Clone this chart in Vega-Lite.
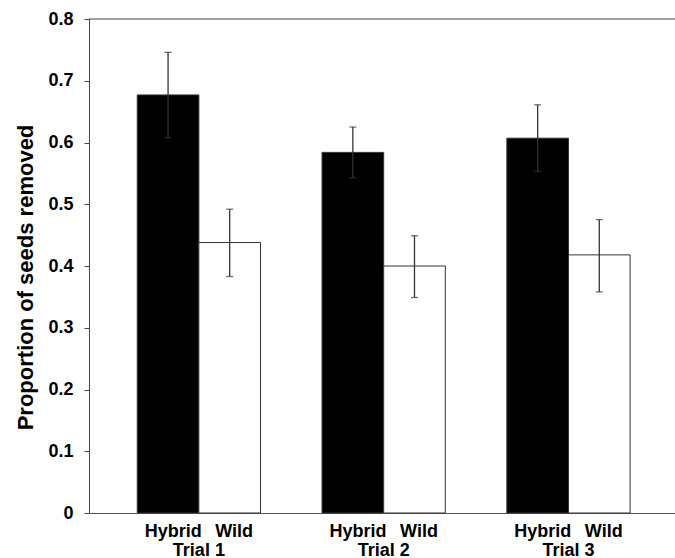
{
  "$schema": "https://vega.github.io/schema/vega-lite/v6.json",
  "width": 586,
  "height": 494,
  "autosize": {"type": "none"},
  "padding": {"left": 89, "top": 19, "right": 0, "bottom": 45},
  "background": "white",
  "config": {"view": {"stroke": null}, "font": "Liberation Sans"},
  "datasets": {
    "bars": [
      {"trial": "Trial 1", "type": "Hybrid", "mean": 0.677, "lo": 0.608, "hi": 0.746},
      {"trial": "Trial 1", "type": "Wild", "mean": 0.438, "lo": 0.383, "hi": 0.492},
      {"trial": "Trial 2", "type": "Hybrid", "mean": 0.584, "lo": 0.543, "hi": 0.625},
      {"trial": "Trial 2", "type": "Wild", "mean": 0.4, "lo": 0.349, "hi": 0.449},
      {"trial": "Trial 3", "type": "Hybrid", "mean": 0.607, "lo": 0.553, "hi": 0.661},
      {"trial": "Trial 3", "type": "Wild", "mean": 0.418, "lo": 0.358, "hi": 0.475}
    ],
    "frame": [{"v": 0.8}]
  },
  "layer": [
    {
      "data": {"name": "bars"},
      "mark": {"type": "bar", "stroke": "#333", "strokeWidth": 1},
      "encoding": {
        "x": {
          "field": "trial", "type": "nominal",
          "scale": {"paddingInner": 0.333, "paddingOuter": 0.252, "align": 0.518},
          "axis": {
            "title": null, "domain": true, "domainColor": "#555", "ticks": false,
            "labelExpr": "['Hybrid\u00a0\u00a0\u2009Wild', datum.value]",
            "labelFontSize": 18, "labelFontWeight": "bold", "labelColor": "#000",
            "labelPadding": 9, "labelLineHeight": 19, "labelAngle": 0, "labelBaseline": "top"
          }
        },
        "xOffset": {"field": "type", "type": "nominal", "sort": ["Hybrid", "Wild"], "scale": {"paddingInner": 0, "paddingOuter": 0}},
        "y": {
          "field": "mean", "type": "quantitative",
          "scale": {"domain": [0, 0.8], "nice": false},
          "axis": {
            "title": "Proportion of seeds removed",
            "values": [0, 0.1, 0.2, 0.3, 0.4, 0.5, 0.6, 0.7, 0.8],
            "labelExpr": "datum.value == 0 ? '0' : format(datum.value, '.1f')",
            "grid": false, "domainColor": "#444", "tickColor": "#444", "tickSize": 5,
            "labelFontSize": 18, "labelFontWeight": "bold", "labelColor": "#000", "labelPadding": 11,
            "titleFontSize": 22, "titleFontWeight": "bold", "titleColor": "#000",
            "titleX": -57, "titleY": 258, "titleAngle": 270, "titleAlign": "center", "titleBaseline": "alphabetic"
          }
        },
        "fill": {"field": "type", "type": "nominal", "scale": {"domain": ["Hybrid", "Wild"], "range": ["#000000", "#ffffff"]}, "legend": null}
      }
    },
    {
      "data": {"name": "bars"},
      "mark": {"type": "rule", "color": "#333", "strokeWidth": 1.3},
      "encoding": {
        "x": {"field": "trial", "type": "nominal"},
        "xOffset": {"field": "type", "type": "nominal", "sort": ["Hybrid", "Wild"]},
        "y": {"field": "lo", "type": "quantitative"},
        "y2": {"field": "hi"}
      }
    },
    {
      "data": {"name": "bars"},
      "mark": {"type": "tick", "color": "#333", "size": 7, "thickness": 1.3},
      "encoding": {
        "x": {"field": "trial", "type": "nominal"},
        "xOffset": {"field": "type", "type": "nominal", "sort": ["Hybrid", "Wild"]},
        "y": {"field": "hi", "type": "quantitative"}
      }
    },
    {
      "data": {"name": "bars"},
      "mark": {"type": "tick", "color": "#333", "size": 7, "thickness": 1.3},
      "encoding": {
        "x": {"field": "trial", "type": "nominal"},
        "xOffset": {"field": "type", "type": "nominal", "sort": ["Hybrid", "Wild"]},
        "y": {"field": "lo", "type": "quantitative"}
      }
    },
    {
      "data": {"name": "frame"},
      "mark": {"type": "rule", "color": "#444", "strokeWidth": 1},
      "encoding": {"y": {"field": "v", "type": "quantitative"}}
    }
  ]
}
